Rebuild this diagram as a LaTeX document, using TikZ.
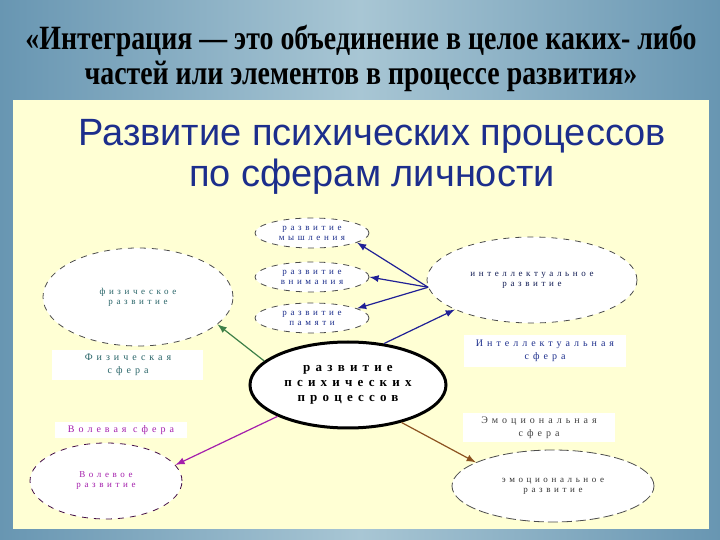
\documentclass[tikz,border=0pt]{standalone}
\usepackage{fontspec}
\setmainfont{Liberation Serif}
\newfontfamily\headfont[FakeStretch=0.82]{Liberation Serif}
\newfontfamily\titlefont{Liberation Sans}
\newfontfamily\tinyfont[LetterSpace=40]{Liberation Serif}
\usetikzlibrary{shapes.geometric}

\definecolor{bgedge}{RGB}{104,150,178}
\definecolor{bgmid}{RGB}{168,198,212}
\definecolor{panelyellow}{RGB}{255,255,212}
\definecolor{navy}{RGB}{28,46,140}
\definecolor{arrowblue}{RGB}{32,32,150}
\definecolor{tealtext}{RGB}{40,100,104}
\definecolor{greenline}{RGB}{62,128,72}
\definecolor{violet}{RGB}{164,30,172}
\definecolor{brownline}{RGB}{140,82,32}

\tikzset{
	devell/.style={ellipse, draw=black!70, dashed, fill=white, inner sep=0pt, align=center,
		font=\tinyfont\fontsize{4.5}{5}\selectfont},
	sferabox/.style={rectangle, fill=white, inner sep=0pt, align=center,
		font=\tinyfont\fontsize{5}{6.5}\selectfont},
	link/.style={->, >=latex, line width=0.6pt}
}

\begin{document}
\begin{tikzpicture}[x=0.5pt, y=-0.5pt]
		 	% background and panel
		 	\useasboundingbox (0,0) rectangle (720,540);
		 	\shade[left color=bgedge, right color=bgedge, middle color=bgmid] (0,0) rectangle (720,540);
		 	\fill[panelyellow] (13,100) rectangle (709,529);
		 	
		 	% header
		 	\node[align=center, font=\headfont\bfseries\fontsize{17}{17.5}\selectfont] (head) at (361,58)
		 	{«Интеграция — это объединение в целое каких- либо\\частей или элементов в процессе развития»};
		 	\node[align=center, text=navy, font=\titlefont\fontsize{19}{20.5}\selectfont] (title) at (372,157)
		 	{Развитие психических процессов\\по сферам личности};
		 	
		 	% intellect
		 	\node[devell, text=navy, minimum width=57pt, minimum height=15pt] (myshl) at (312,233) {развитие\\мышления};
		 	\node[devell, text=navy, minimum width=57pt, minimum height=15pt] (vnim) at (312,277) {развитие\\внимания};
		 	\node[devell, text=navy, minimum width=57pt, minimum height=15pt] (pamyat) at (312,318) {развитие\\памяти};
		 	\node[devell, text=navy!60!black, minimum width=105pt, minimum height=43pt] (intel) at (532,280) {интеллектуальное\\развитие};
		 	\node[sferabox, text=navy, minimum width=81pt, minimum height=16pt] (intelsf) at (545,351) {Интеллектуальная\\сфера};
		 	
		 	% physical
		 	\node[devell, text=tealtext, minimum width=95pt, minimum height=49pt] (fiz) at (138,297) {физическое\\развитие};
		 	\node[sferabox, text=tealtext, minimum width=75.5pt, minimum height=15pt] (fizsf) at (128,365) {Физическая\\сфера};
		 	
		 	% centre
		 	\node[ellipse, draw, line width=1.5pt, fill=white, inner sep=0pt, align=center, minimum width=98pt, minimum height=43pt,
		 	font=\tinyfont\bfseries\fontsize{6.5}{7.5}\selectfont] (psych) at (348,385) {развитие\\психических\\процессов};
		 	
		 	% will
		 	\node[sferabox, text=violet, minimum width=66pt, minimum height=8pt] (volsf) at (121,430) {Волевая сфера};
		 	\node[devell, draw=violet!40!black, text=violet, minimum width=76pt, minimum height=38pt] (voldev) at (106,481) {Волевое\\развитие};
		 	
		 	% emotions
		 	\node[sferabox, text=black!75, minimum width=76pt, minimum height=14.5pt] (emosf) at (539,428) {Эмоциональная\\сфера};
		 	\node[devell, dash pattern=on 5pt off 2pt, text=black!80, minimum width=101pt, minimum height=36pt] (emodev) at (553,486) {эмоциональное\\развитие};
		 	
		 	% arrows
		 	\draw[link, arrowblue] (intel.184) -- (myshl.-12);
		 	\draw[link, arrowblue] (intel.184) -- (vnim.east);
		 	\draw[link, arrowblue] (intel.184) -- (pamyat.12);
		 	\draw[link, arrowblue] (psych.49) -- (intel.201);
		 	\draw[link, greenline] (psych.164) -- (fiz.-19.5);
		 	\draw[link, violet] (psych.204) -- (voldev.13);
		 	\draw[link, brownline] (psych.-35) -- (emodev.163.5);
		 	
\end{tikzpicture}
\end{document}
